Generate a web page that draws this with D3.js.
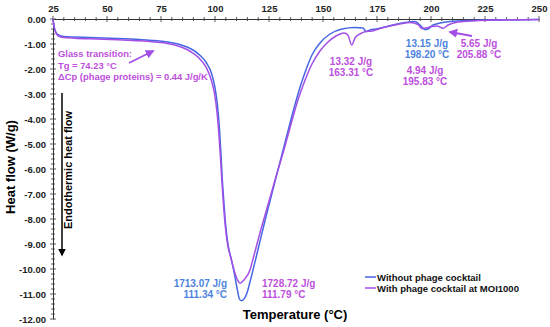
<!DOCTYPE html>
<html>
<head>
<meta charset="utf-8">
<script src="https://cdn.jsdelivr.net/npm/d3@7"></script>
<style>
  body { margin: 0; background: #fff; }
  text { font-family: "Liberation Sans", Arial, sans-serif; font-weight: bold; }
</style>
</head>
<body>
<div id="chart"></div>
<script>
// temperature (°C) / heat flow (W/g)
var withoutT = [25, 25.4, 26.2, 27.5, 30, 35, 45, 55, 65, 72, 78, 83, 87, 90, 93, 96, 98.5, 100, 101.2, 102, 102.7, 103.3, 104, 105, 106, 107.5, 109, 110.3, 111.3, 112.2,
  114.8, 116.2, 119.4, 123.1, 126.4, 130.1, 133.3, 136.6, 139.4, 142.1, 144.9, 148.6, 153.2, 158.8, 164.8, 168.5, 169.9, 171.8, 174.5, 178.7, 183.3, 188, 192.6, 194.9, 197.2, 198.6, 200.5, 204.2, 208.8, 218, 231.9, 250];
var withoutHF = [0, -0.25, -0.5, -0.64, -0.7, -0.72, -0.75, -0.78, -0.82, -0.86, -0.92, -1.0, -1.12, -1.25, -1.45, -1.75, -2.2, -2.75, -3.5, -4.3, -5.3, -6.3, -7.2, -8.3, -9.0, -9.6, -10.2, -10.8, -11.2, -11.27,
  -10.96, -10.52, -9.4, -8.08, -6.96, -5.72, -4.64, -3.56, -2.72, -2.04, -1.44, -0.96, -0.6, -0.4, -0.34, -0.36, -0.5, -0.44, -0.4, -0.32, -0.22, -0.14, -0.1, -0.24, -0.42, -0.4, -0.26, -0.16, -0.1, -0.06, -0.04, -0.02];

var withT = [25, 25.4, 26.2, 27.5, 30, 35, 45, 55, 65, 72, 78, 83, 87, 90, 93, 96, 98.3, 99.8, 101, 101.8, 102.5, 103.2, 103.9, 104.9, 106, 107.5, 109, 110.5, 111.6,
  113.4, 116.2, 117.6, 120.8, 124.5, 128.2, 131.9, 135.2, 138.4, 141.7, 144.9, 148.6, 152.3, 156, 159.7, 161.5, 163.3, 164.8, 167.1, 169.9, 172.7, 176.4, 181, 185.6, 190.3, 194, 195.8, 197.7, 200.5, 202.8, 205.6, 207.9, 212.5, 220.4, 231.9, 250];
var withHF = [0, -0.27, -0.53, -0.68, -0.74, -0.77, -0.8, -0.83, -0.87, -0.92, -0.98, -1.08, -1.22, -1.38, -1.6, -1.95, -2.45, -3.0, -3.8, -4.6, -5.5, -6.5, -7.4, -8.4, -9.1, -9.6, -10.1, -10.45, -10.57,
  -10.44, -10.04, -9.6, -8.56, -7.44, -6.32, -5.24, -4.2, -3.24, -2.44, -1.8, -1.28, -0.92, -0.68, -0.56, -0.64, -1.04, -0.76, -0.6, -0.5, -0.48, -0.38, -0.28, -0.2, -0.14, -0.22, -0.38, -0.36, -0.3, -0.28, -0.37, -0.24, -0.12, -0.07, -0.04, -0.02];

var xTicks = [25, 50, 75, 100, 125, 150, 175, 200, 225, 250];
var yTicks = [0, -1, -2, -3, -4, -5, -6, -7, -8, -9, -10, -11, -12];
var seriesNames = ["Without phage cocktail", "With phage cocktail at MOI1000"];

var blue = "#4766e4", purple = "#a34fe6";
var blueText = "#4d84e0", purpleText = "#bd50dc";

var svg = d3.select("#chart").append("svg").attr("width", 550).attr("height", 327);

var x = d3.scaleLinear().domain([25, 250]).range([53, 539]);
var y = d3.scaleLinear().domain([0, -12]).range([19, 319]);

// x axis on top
var xAxis = svg.append("g").attr("transform", "translate(0,19)")
  .call(d3.axisTop(x).tickValues(xTicks).tickSize(0).tickPadding(7).tickFormat(d3.format("d")));
xAxis.select(".domain").attr("stroke", "#333");
xAxis.selectAll("text").attr("font-size", "9.5px").attr("fill", "#222");

var yAxis = svg.append("g").attr("transform", "translate(53,0)")
  .call(d3.axisLeft(y).tickValues(yTicks).tickSize(0).tickPadding(7).tickFormat(function(d){ return d.toFixed(2); }));
yAxis.select(".domain").attr("stroke", "#333");
yAxis.selectAll("text").attr("font-size", "9.5px").attr("fill", "#222");

// tick marks, major crossing the axis, minor small
d3.range(25, 251, 5).forEach(function(t){
  var major = t % 25 == 0;
  svg.append("line")
    .attr("x1", x(t)).attr("x2", x(t))
    .attr("y1", 19 - (major ? 3 : 2)).attr("y2", 19 + (major ? 3 : 2))
    .attr("stroke", "#333").attr("stroke-width", 0.8);
});
d3.range(0, 60.5, 1).forEach(function(i){
  var v = -i / 5;
  var major = i % 5 == 0;
  svg.append("line")
    .attr("y1", y(v)).attr("y2", y(v))
    .attr("x1", 53 - (major ? 3 : 2)).attr("x2", 53 + (major ? 3 : 2))
    .attr("stroke", "#333").attr("stroke-width", 0.8);
});

var line = d3.line()
  .x(function(d){ return x(d[0]); })
  .y(function(d){ return y(d[1]); })
  .curve(d3.curveMonotoneX);

svg.append("path").datum(d3.zip(withoutT, withoutHF))
  .attr("d", line).attr("fill", "none").attr("stroke", blue).attr("stroke-width", 1.5);
svg.append("path").datum(d3.zip(withT, withHF))
  .attr("d", line).attr("fill", "none").attr("stroke", purple).attr("stroke-width", 1.5);

// arrowheads
var defs = svg.append("defs");
function marker(id, color) {
  defs.append("marker").attr("id", id)
    .attr("viewBox", "0 0 10 10").attr("refX", 8).attr("refY", 5)
    .attr("markerWidth", 5).attr("markerHeight", 5).attr("orient", "auto")
    .append("path").attr("d", "M0,0L10,5L0,10z").attr("fill", color);
}
marker("arP", purple);
marker("arK", "#000");

function label(tx, ty, str, color, anchor, size) {
  svg.append("text").attr("x", tx).attr("y", ty)
    .attr("text-anchor", anchor || "start")
    .attr("font-size", (size || 10) + "px")
    .attr("fill", color).text(str);
}

// glass transition
label(58, 57, "Glass transition:", purpleText, "start", 9.4);
label(58, 69, "Tg = 74.23 °C", purpleText, "start", 9.4);
label(58, 80, "ΔCp (phage proteins) = 0.44 J/g/K", purpleText, "start", 9.4);
svg.append("line").attr("x1", 129).attr("y1", 63).attr("x2", 153).attr("y2", 51)
  .attr("stroke", purple).attr("stroke-width", 1.8).attr("marker-end", "url(#arP)");

// peaks
label(227, 287, "1713.07 J/g", blueText, "end");
label(227, 298, "111.34 °C", blueText, "end");
label(262, 287, "1728.72 J/g", purpleText);
label(262, 298, "111.79 °C", purpleText);
label(351, 65, "13.32 J/g", purpleText, "middle");
label(351, 76, "163.31 °C", purpleText, "middle");
label(427, 47, "13.15 J/g", blueText, "middle");
label(427, 58, "198.20 °C", blueText, "middle");
label(425, 74, "4.94 J/g", purpleText, "middle");
label(425, 85, "195.83 °C", purpleText, "middle");
label(479, 47, "5.65 J/g", purpleText, "middle");
label(479, 58, "205.88 °C", purpleText, "middle");
svg.append("line").attr("x1", 472).attr("y1", 36).attr("x2", 450).attr("y2", 32)
  .attr("stroke", purple).attr("stroke-width", 1.8).attr("marker-end", "url(#arP)");

// endothermic arrow
svg.append("line").attr("x1", 62).attr("y1", 93).attr("x2", 62).attr("y2", 255)
  .attr("stroke", "#000").attr("stroke-width", 1.5).attr("marker-end", "url(#arK)");
svg.append("text").attr("transform", "translate(72,170) rotate(-90)")
  .attr("text-anchor", "middle").attr("font-size", "11px").attr("fill", "#000")
  .text("Endothermic heat flow");

// axis titles
svg.append("text").attr("x", 295).attr("y", 319).attr("text-anchor", "middle")
  .attr("font-size", "13px").attr("fill", "#000").text("Temperature (°C)");
svg.append("text").attr("transform", "translate(15,167) rotate(-90)")
  .attr("text-anchor", "middle").attr("font-size", "13px").attr("fill", "#000")
  .text("Heat flow (W/g)");

// legend
[blue, purple].forEach(function(c, i){
  svg.append("line").attr("x1", 365).attr("x2", 376)
    .attr("y1", 277 + i * 11).attr("y2", 277 + i * 11)
    .attr("stroke", c).attr("stroke-width", 1.5);
  label(377, 280.5 + i * 11, seriesNames[i], "#111", "start", 9.5);
});
</script>
</body>
</html>
